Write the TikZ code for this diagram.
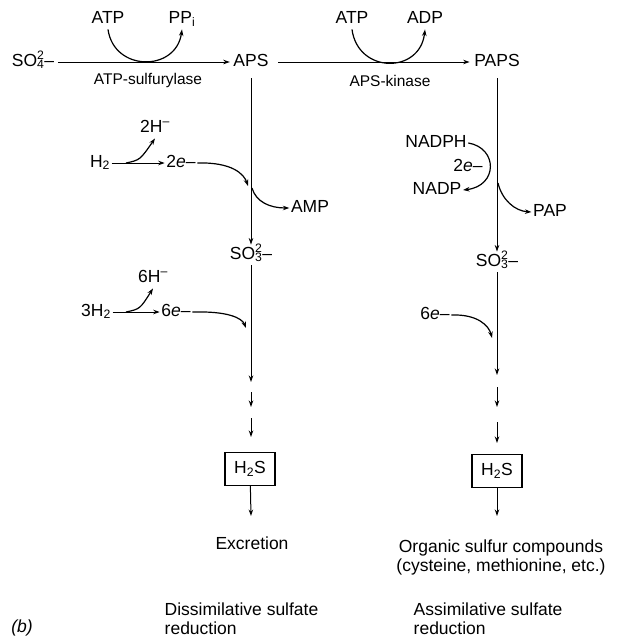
\documentclass[tikz,border=0pt]{standalone}
\usepackage{fontspec}
\setmainfont{Liberation Sans}
\usetikzlibrary{arrows.meta}
\newcommand{\chg}[2]{\rlap{\textsubscript{#1}}\textsuperscript{#2}}

\begin{document}
\begin{tikzpicture}[
  x=1pt, y=-1pt,
  lab/.style={inner sep=1.5pt, font=\fontsize{17.5}{19}\selectfont},
  txt/.style={lab, text height=13pt, text depth=4.5pt},
  enz/.style={lab, font=\fontsize{15.5}{17}\selectfont},
  capt/.style={lab, align=left},
  hsbox/.style={lab, draw, line width=1.1pt, minimum width=50pt, minimum height=33pt},
  arr/.style={-{Stealth[length=6.5pt,width=4.5pt]}, line width=1pt},
  curv/.style={arr, line width=1.2pt}
]
\useasboundingbox (0,0) rectangle (619,643);

\node[txt] (so4) at (33,62) {SO\chg{4}{2}--};
\node[txt] (aps) at (251,62) {APS};
\node[txt] (paps) at (497,62) {PAPS};
\node[enz] (sulf) at (148,80) {ATP-sulfurylase};
\node[enz] (kin) at (390,81) {APS-kinase};
\node[txt] (atpA) at (108,19) {ATP};
\node[txt] (ppi) at (182,19) {PP\textsubscript{i}};
\node[txt] (atpB) at (352,19) {ATP};
\node[txt] (adp) at (425,19) {ADP};

\node[txt] (hp2) at (155,128) {2H\textsuperscript{--}};
\node[txt] (h2) at (100,163) {H\textsubscript{2}};
\node[txt] (e2) at (181,163) {2\textit{e}--};
\node[txt] (amp) at (310,208) {AMP};
\node[txt] (so3L) at (251,255) {SO\chg{3}{2}--};
\node[txt] (hp6) at (153,278) {6H\textsuperscript{--}};
\node[txt] (h23) at (96,312) {3H\textsubscript{2}};
\node[txt] (e6) at (176,312) {6\textit{e}--};
\node[hsbox] (hsL) at (250,469) {H\textsubscript{2}S};
\node[txt] (excr) at (252,545) {Excretion};

\node[txt] (nadph) at (436,143) {NADPH};
\node[txt] (e2R) at (468,167) {2\textit{e}--};
\node[txt] (nadp) at (437,190) {NADP};
\node[txt] (pap) at (550,212) {PAP};
\node[txt] (so3R) at (497,262) {SO\chg{3}{2}--};
\node[txt] (e6R) at (435,315) {6\textit{e}--};
\node[hsbox] (hsR) at (497,471) {H\textsubscript{2}S};
\node[lab, align=center] (org) at (501,557) {Organic sulfur compounds\\(cysteine, methionine, etc.)};

\node[capt, anchor=west] (dis) at (163,619) {Dissimilative sulfate\\reduction};
\node[capt, anchor=west] (ass) at (412,619) {Assimilative sulfate\\reduction};
\node[lab] (fig) at (22,628) {\textit{(b)}};

\coordinate (brL) at (126,163);
\coordinate (inL) at (248,186);
\coordinate (outL) at (252,188);
\coordinate (brL6) at (126,312);
\coordinate (inL6) at (246,328);
\coordinate (outR) at (498,183);
\coordinate (inR6) at (492,338);
\coordinate (dL1) at (251,382);
\coordinate (dL2) at (251,392);
\coordinate (dL3) at (251,407);
\coordinate (dL4) at (251,418);
\coordinate (dL5) at (251,437);
\coordinate (dL6) at (251,516);
\coordinate (dR1) at (497,375);
\coordinate (dR2) at (497,387);
\coordinate (dR3) at (497,407);
\coordinate (dR4) at (497,422);
\coordinate (dR5) at (497,443);
\coordinate (dR6) at (497,516);

\draw[arr, shorten <=2pt, shorten >=2pt] (so4) -- (aps);
\draw[arr, shorten <=8pt, shorten >=3pt] (aps) -- (paps);
\draw[arr, shorten <=6pt] (aps) -- (so3L);
\draw[arr, shorten <=6pt] (paps) -- (so3R);
\foreach \a/\b in {so3L/dL1, dL2/dL3, dL4/dL5, hsL/dL6,
                   so3R/dR1, dR2/dR3, dR4/dR5, hsR/dR6}
  \draw[arr] (\a) -- (\b);

\draw[curv] (atpA.south) .. controls (114,72) and (176,72) .. (ppi.south);
\draw[curv] (atpB.south) .. controls (358,74) and (420,74) .. (adp.south);

\draw[arr] (h2) -- (e2);
\draw[curv] (brL) .. controls (140,160) .. (hp2.south);
\draw[curv] (e2.east) .. controls (232,162) and (244,174) .. (inL);
\draw[curv] (outL) .. controls (256,202) and (270,208) .. (amp.west);
\draw[arr] (h23) -- (e6);
\draw[curv] (brL6) .. controls (140,309) .. (hp6.south);
\draw[curv] (e6.east) .. controls (228,311) and (242,318) .. (inL6);

\draw[curv] (nadph.east) .. controls (498,148) and (498,186) .. (nadp.east);
\draw[curv] (outR) .. controls (502,200) and (515,211) .. (pap.west);
\draw[curv] (e6R.east) .. controls (478,314) and (489,326) .. (inR6);
\end{tikzpicture}
\end{document}
